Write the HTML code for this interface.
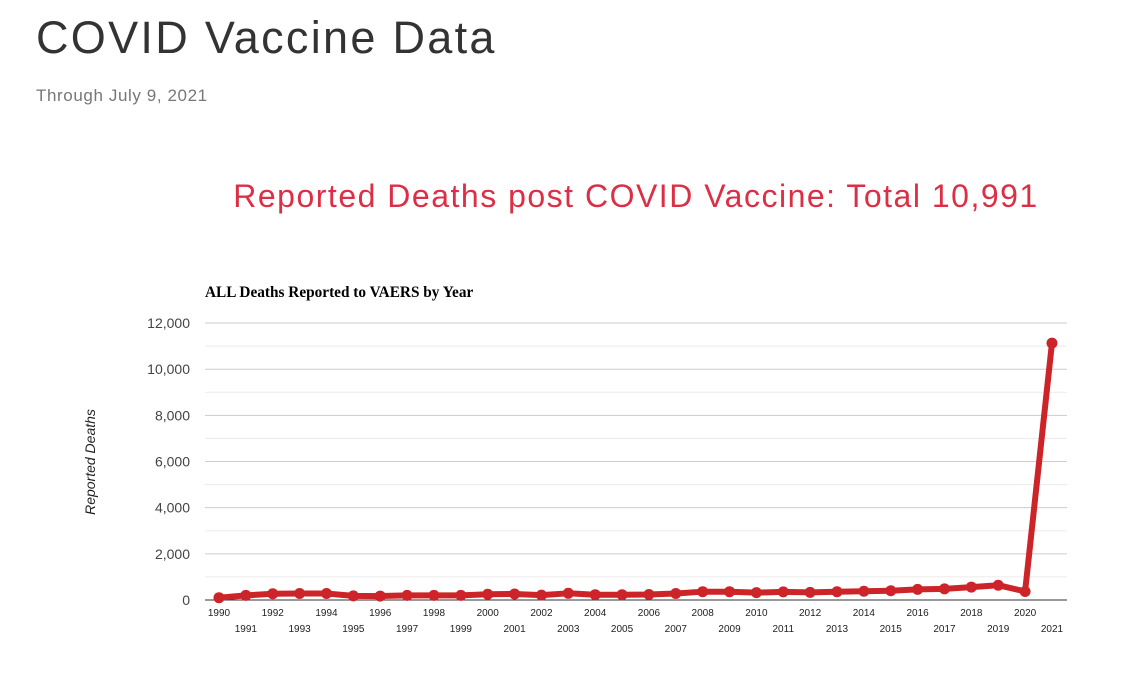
<!DOCTYPE html>
<html><head><meta charset="utf-8"><style>
body{margin:0;background:#fff;width:1142px;height:677px;overflow:hidden;font-family:"Liberation Sans",sans-serif;position:relative}
.t{position:absolute;left:36px;top:12px;font-size:45px;color:#333;letter-spacing:2.3px}
.s{position:absolute;left:36px;top:86px;font-size:17px;color:#777;letter-spacing:0.6px}
.r{position:absolute;left:0;width:1272px;text-align:center;top:178px;font-size:32px;color:#dc2f45;letter-spacing:1.5px}
</style></head><body>
<div class="t">COVID Vaccine Data</div>
<div class="s">Through July 9, 2021</div>
<div class="r">Reported Deaths post COVID Vaccine: Total 10,991</div>
<svg width="1142" height="677" style="position:absolute;left:0;top:0">
<text x="205" y="297" font-family="Liberation Serif" font-weight="bold" font-size="15.3">ALL Deaths Reported to VAERS by Year</text>
<g id="grid"></g>
<line x1="205" y1="600" x2="1067" y2="600" stroke="#333" stroke-width="1"/>
<text transform="translate(95,462) rotate(-90)" font-size="14" font-style="italic" text-anchor="middle" fill="#222">Reported Deaths</text>
<g id="yl" font-size="14" fill="#444" text-anchor="end"></g>
<g id="xl" font-size="10" fill="#222" text-anchor="middle"></g>
<polyline id="ln" fill="none" stroke="#cc2428" stroke-width="6" stroke-linejoin="round"/>
<g id="pts" fill="#cc2428"></g>
</svg>
<script>
var ns="http://www.w3.org/2000/svg";
function el(n,a,p){var e=document.createElementNS(ns,n);for(var k in a)e.setAttribute(k,a[k]);document.getElementById(p).appendChild(e);return e;}
for(var i=1;i<=12;i++){var y=600-i*23.08;el("line",{x1:205,x2:1067,y1:y,y2:y,stroke:i%2?"#ebebeb":"#ccc","stroke-width":1},"grid");}
for(var i=0;i<=6;i++){var t=el("text",{x:190,y:600-i*46.16+5},"yl");t.textContent=i==0?"0":(i*2)+",000";}
var d=[100,200,270,280,280,180,170,200,200,200,250,260,210,290,230,230,240,280,360,360,320,350,330,360,380,400,460,480,560,640,370,11130];
var pts=[];
for(var i=0;i<d.length;i++){var x=219+i*26.87,y=600-d[i]*0.02308;pts.push(x+","+y);
el("circle",{cx:x,cy:y,r:5.5},"pts");
var t=el("text",{x:x,y:i%2?632:616},"xl");t.textContent=1990+i;}
document.getElementById("ln").setAttribute("points",pts.join(" "));
</script>
</body></html>
